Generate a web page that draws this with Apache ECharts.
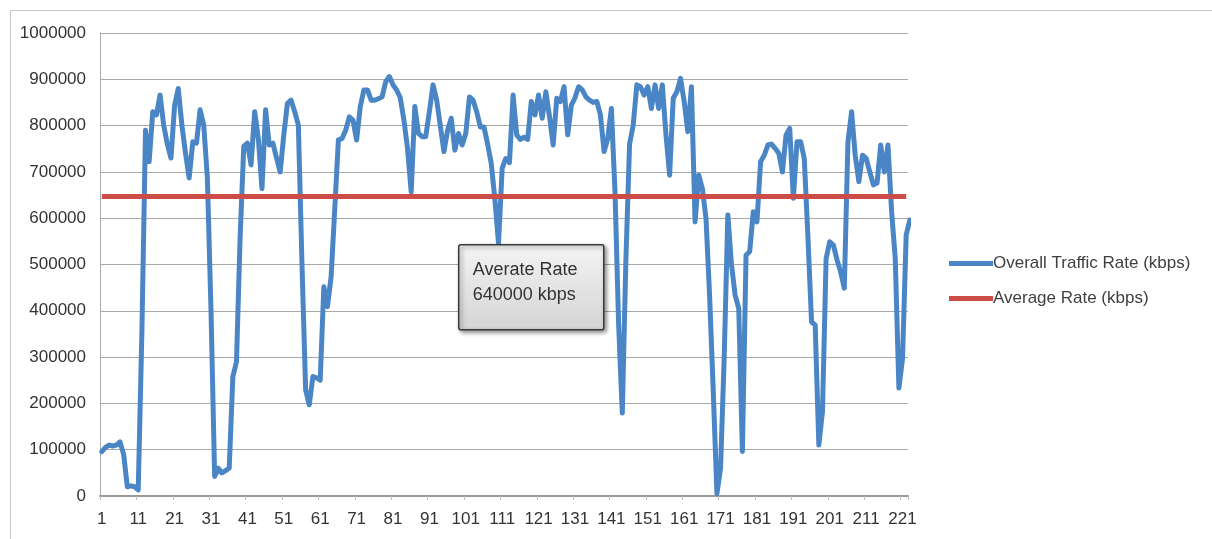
<!DOCTYPE html>
<html>
<head>
<meta charset="utf-8">
<script src="https://cdn.jsdelivr.net/npm/echarts@6/dist/echarts.min.js"></script>
<style>
html,body{margin:0;padding:0;background:#fff;}
#c{width:1212px;height:539px;}
</style>
</head>
<body>
<div id="c"></div>
<script>
// ---- data ----
const categories = [];
for (let i = 1; i <= 222; i++) categories.push(String(i));

const trafficRate = [
  96000,105000,110000,108000,110000,117000,90000,20000,22000,20000,
  13000,350000,790000,722000,830000,823000,866000,801000,760000,730000,
  844000,880000,801000,740000,687000,765000,762000,834000,801000,687000,
  400000,42000,60000,50000,55000,60000,258000,290000,560000,755000,
  762000,715000,830000,772000,664000,834000,758000,762000,730000,700000,
  780000,848000,855000,830000,801000,500000,229000,197000,258000,255000,
  250000,452000,409000,474000,620000,769000,772000,790000,819000,812000,
  769000,840000,877000,877000,855000,855000,858000,862000,895000,906000,
  888000,877000,860000,812000,750000,657000,841000,783000,776000,776000,
  830000,888000,855000,800000,744000,790000,816000,747000,783000,758000,
  783000,862000,855000,830000,797000,797000,760000,718000,640000,546000,
  708000,729000,720000,866000,780000,770000,775000,770000,852000,823000,
  866000,816000,873000,820000,758000,859000,852000,884000,780000,844000,
  860000,884000,877000,862000,855000,850000,852000,823000,744000,772000,
  837000,657000,369000,179000,513000,760000,801000,888000,884000,866000,
  884000,837000,888000,837000,888000,780000,693000,859000,873000,902000,
  852000,787000,884000,592000,693000,664000,600000,430000,225000,5000,
  60000,300000,607000,500000,434000,405000,96000,520000,528000,614000,
  592000,722000,736000,758000,760000,751000,740000,700000,780000,794000,
  643000,765000,765000,729000,560000,376000,369000,110000,182000,513000,
  549000,542000,510000,484000,449000,765000,830000,736000,679000,736000,
  729000,700000,672000,676000,758000,700000,758000,614000,513000,233000,
  297000,564000,596000
];
const averageRateValue = 647000;
const averageRate = categories.map(() => averageRateValue);

const seriesNames = ['Overall Traffic Rate (kbps)', 'Average Rate (kbps)'];
const annotationLines = ['Averate Rate', '640000 kbps'];

// ---- chart ----
const chart = echarts.init(document.getElementById('c'), null, {renderer: 'canvas'});
const FONT = 'Liberation Sans';
chart.setOption({
  animation: false,
  backgroundColor: '#fff',
  grid: {left: 100, right: 304, top: 33, bottom: 43, containLabel: false},
  legend: {
    orient: 'vertical',
    left: 944,
    top: 250,
    itemWidth: 44,
    itemHeight: 5,
    itemGap: 18,
    icon: 'rect',
    textStyle: {fontFamily: FONT, fontSize: 17, color: '#404040', padding: [0,0,0,-5]},
    data: seriesNames
  },
  xAxis: {
    type: 'category',
    data: categories,
    boundaryGap: true,
    axisLine: {lineStyle: {color: '#999', width: 2}},
    axisTick: {show: true, interval: 9, length: 4, lineStyle: {color: '#bbb'}},
    axisLabel: {interval: 9, fontFamily: FONT, fontSize: 17, color: '#333', margin: 15},
    splitLine: {show: false}
  },
  yAxis: {
    type: 'value',
    min: 0,
    max: 1000000,
    interval: 100000,
    axisLine: {show: true, lineStyle: {color: '#aaa', width: 1}},
    axisTick: {show: false},
    axisLabel: {fontFamily: FONT, fontSize: 17, color: '#333', margin: 14, formatter: v => String(v)},
    splitLine: {lineStyle: {color: '#a8a8a8', width: 1}}
  },
  series: [
    {
      name: seriesNames[0],
      type: 'line',
      data: trafficRate,
      symbol: 'none',
      lineStyle: {color: '#4a86c6', width: 5, join: 'round', cap: 'round'},
      itemStyle: {color: '#4a86c6'},
      z: 3
    },
    {
      name: seriesNames[1],
      type: 'line',
      data: averageRate,
      symbol: 'none',
      lineStyle: {color: '#cc4c47', width: 5},
      itemStyle: {color: '#cc4c47'},
      z: 4
    }
  ],
  graphic: [
    {
      type: 'rect',
      left: 8, top: 8,
      shape: {width: 1220, height: 560},
      style: {fill: 'none', stroke: '#c8c8c8', lineWidth: 1},
      silent: true, z: 0
    },
    {
      type: 'group',
      left: 458, top: 244,
      z: 100,
      children: [
        {
          type: 'rect',
          z: 100,
          shape: {x: 0, y: 0, width: 145, height: 85, r: 2},
          style: {
            fill: new echarts.graphic.LinearGradient(0, 0, 0, 1, [
              {offset: 0, color: '#f4f4f4'},
              {offset: 1, color: '#d4d4d4'}
            ]),
            stroke: '#3a3a3a', lineWidth: 1.5,
            shadowBlur: 4, shadowColor: 'rgba(0,0,0,0.45)', shadowOffsetX: 2, shadowOffsetY: 2
          }
        },
        {
          type: 'text',
          z: 101,
          x: 14, y: 13,
          style: {
            text: annotationLines.join('\n'),
            fontFamily: FONT, fontSize: 18, lineHeight: 25, fill: '#333'
          }
        }
      ]
    }
  ]
});
</script>
</body>
</html>
